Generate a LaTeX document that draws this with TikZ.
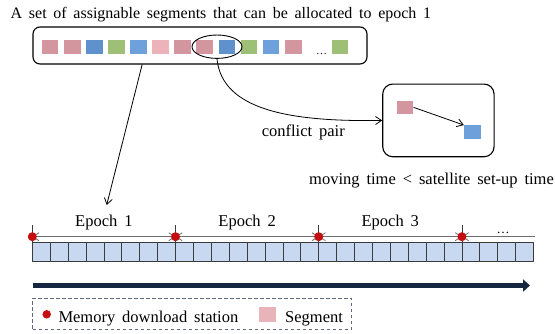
\documentclass[tikz,border=0pt]{standalone}
\usepackage{fontspec}
\setmainfont{Liberation Serif}
\usetikzlibrary{arrows.meta,shapes.geometric}
\definecolor{segpink}{RGB}{212,150,158}
\definecolor{seglight}{RGB}{236,180,186}
\definecolor{segblue}{RGB}{95,145,205}
\definecolor{segblueB}{RGB}{110,160,220}
\definecolor{seggreen}{RGB}{158,192,118}
\definecolor{legpink}{RGB}{232,180,186}
\definecolor{cellfill}{RGB}{200,216,240}
\definecolor{celldraw}{RGB}{60,60,60}
\definecolor{navy}{RGB}{20,38,64}
\definecolor{dotred}{RGB}{195,15,15}
\definecolor{legdash}{RGB}{95,105,125}
\definecolor{tlgray}{RGB}{110,110,110}
\newcommand{\widesp}{\spaceskip=0.42em plus 0.1em\relax}
\begin{document}
\begin{tikzpicture}[x=1pt,y=-1pt,
  tipb/.tip={Straight Barb[length=6pt,width=8pt]},
  txt/.style={font=\fontsize{16.5}{19}\selectfont, execute at begin node=\widesp, inner sep=0, text=black},
  ttl/.style={font=\fontsize{16}{19}\selectfont, execute at begin node=\widesp, inner sep=0, text=black},
  seg/.style={minimum width=16.7pt, minimum height=13.5pt, inner sep=0, draw=none},
  rbox/.style={draw, line width=1.1pt, inner sep=0},
  arr/.style={-tipb, line width=0.8pt},
  tl/.style={tlgray, line width=0.8pt},
  dot/.style={circle, fill=dotred, inner sep=0, minimum size=9pt},
  cell/.style={draw=celldraw, fill=cellfill, line width=0.8pt, minimum width=17.9pt, minimum height=19.4pt, inner sep=0},
  bigarr/.style={navy, line width=5.7pt, -{Triangle[length=7pt,width=12pt]}},
]
\useasboundingbox (0,0) rectangle (555,333);

% title
\node[ttl, anchor=base west] (title) at (10.5,18.5) {A set of assignable segments that can be allocated to epoch 1};

% segment set box
\node[rbox, rounded corners=7pt, minimum width=334pt, minimum height=37pt] (setbox) at (200,45.5) {};
\foreach \c [count=\i] in {segpink,segpink,segblue,seggreen,segblueB,seglight,segpink,segpink,segblue,seggreen,segblueB,segpink}
  {\node[seg, fill=\c] (s\i) at ({50.05+22.1*(\i-1)},46.75) {};}
\node[seg, fill=seggreen] (s13) at (340,46.75) {};
\node[font=\fontsize{11}{12}\selectfont, inner sep=0, anchor=base] (sdots) at (321.7,54) {\dots};
\node[draw, ellipse, line width=0.9pt, minimum width=50pt, minimum height=23.4pt, inner sep=0] (ell) at (217,46.7) {};

% conflict pair box
\node[rbox, rounded corners=10pt, minimum width=111.3pt, minimum height=72.7pt] (pair) at (438.4,120.4) {};
\node[seg, fill=segpink] (pk) at (405,107.35) {};
\node[seg, fill=segblueB] (bl) at (472.35,132) {};
\draw[arr] (pk.east) -- (bl.north west);

% curved arrow to pair box
\draw[arr] (ell.south) .. controls (222,110) and (290,122) .. (pair.west);
\node[txt, anchor=base] (cp) at (303.3,136) {conflict pair};
\node[txt, anchor=base] (mv) at (431.5,184) {moving time < satellite set-up time};

% epoch labels
\node[txt, anchor=base] (ep1) at (103.9,226.7) {Epoch 1};
\node[txt, anchor=base] (ep2) at (247.1,226.7) {Epoch 2};
\node[txt, anchor=base] (ep3) at (390.3,226.7) {Epoch 3};
\coordinate (ep1tip) at (106.7,205);
\draw[arr] ([xshift=109.7pt]setbox.south west) -- (ep1tip);

% cells
\foreach \i in {0,...,27}
  {\node[cell] (c\i) at ({41.25+17.9*\i},252) {};}

% ticks
\foreach \x [count=\i] in {32.3,175.5,318.7,461.9}
  {\draw[tl, celldraw] (\x,225) -- (\x,242.3);
   \coordinate (t\i) at (\x,236.7);}
\coordinate (tlend) at (535,236.7);
\draw[tl, tipb-tipb] (t1) -- (t2);
\draw[tl, tipb-tipb] (t2) -- (t3);
\draw[tl, tipb-tipb] (t3) -- (t4);
\draw[tl, tipb-] (t4) -- (tlend);
\foreach \i in {1,...,4}
  {\node[dot] (d\i) at (t\i) {};}
\node[font=\fontsize{13}{14}\selectfont, inner sep=0, anchor=base] (tdots) at (503,233) {\dots};

% big time arrow
\coordinate (bs) at (32.7,285.5);
\coordinate (be) at (530,285.5);
\draw[bigarr] (bs) -- (be);

% legend
\node[draw=legdash, line width=0.8pt, dash pattern=on 3.5pt off 2.5pt, minimum width=319pt, minimum height=31pt, inner sep=0] (legend) at (192.2,313.8) {};
\node[dot, minimum size=8.5pt] (ldot) at (46.7,314.3) {};
\node[txt, anchor=base west] (ltxt) at (58.3,322.7) {Memory download station};
\node[minimum width=16.7pt, minimum height=15pt, inner sep=0, fill=legpink] (lseg) at (267.6,314.8) {};
\node[txt, anchor=base west] (lsegtxt) at (285,322.7) {Segment};
\end{tikzpicture}
\end{document}
